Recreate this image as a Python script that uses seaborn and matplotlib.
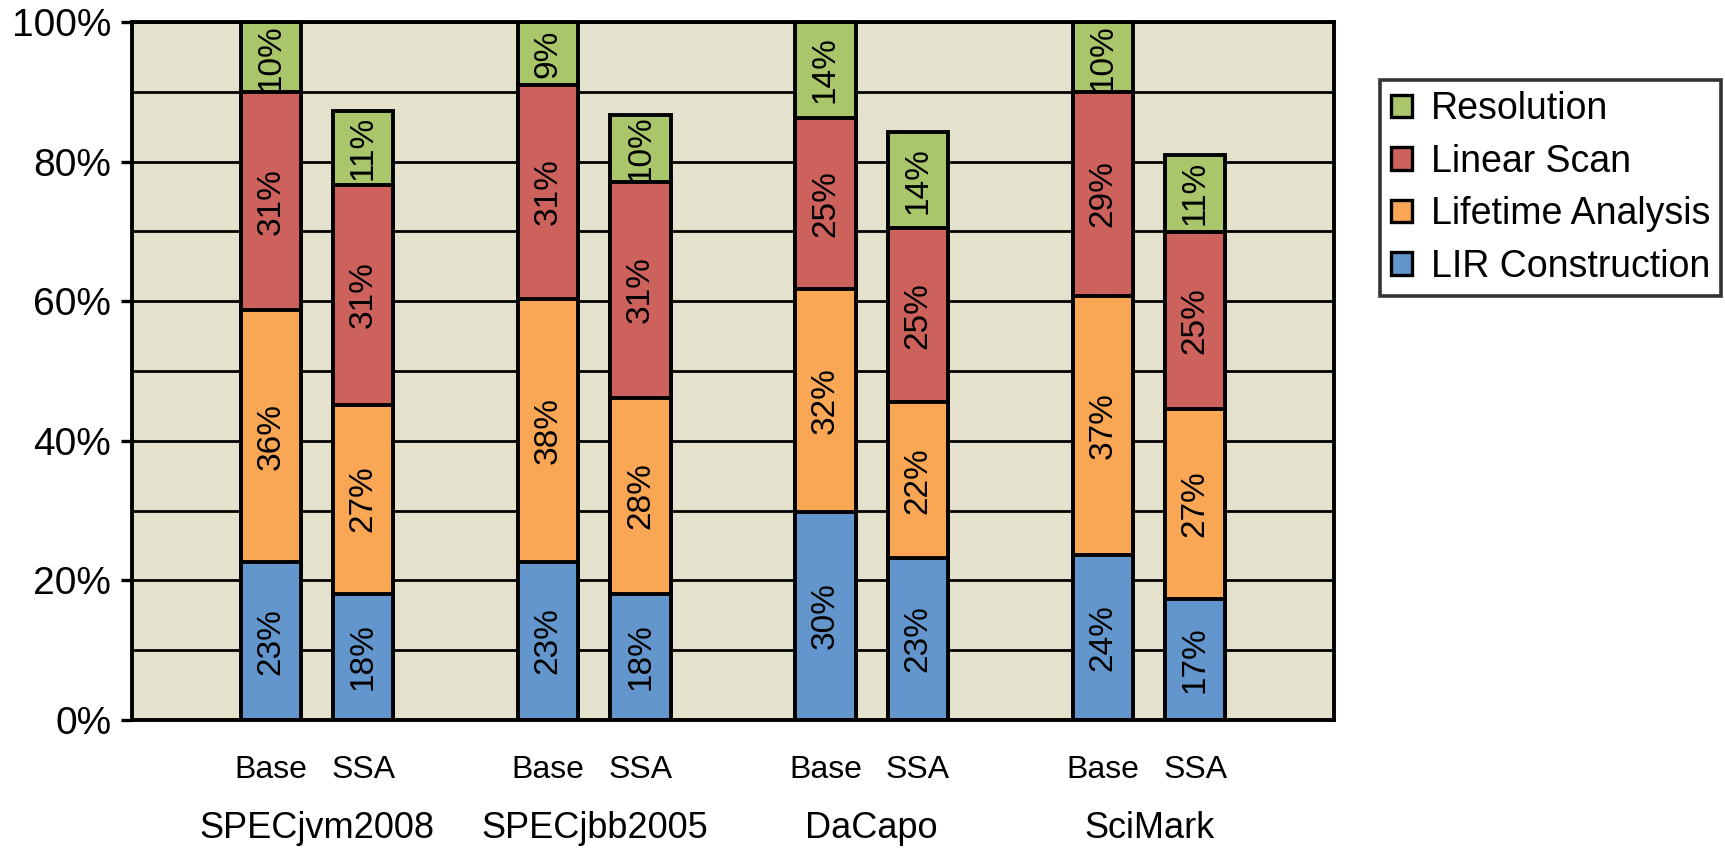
import numpy as np
import pandas as pd
import matplotlib
matplotlib.use("Agg")
import matplotlib.pyplot as plt
from matplotlib.patches import Patch
from matplotlib.ticker import MultipleLocator
import seaborn as sns

BENCHMARKS = ["SPECjvm2008", "SPECjbb2005", "DaCapo", "SciMark"]
RUNS = ["Base", "SSA"]
COMPONENTS = ["LIR Construction", "Lifetime Analysis", "Linear Scan", "Resolution"]
COLORS = ["#6396CC", "#FAA755", "#CD625D", "#AAC66A"]

# share of Base register-allocation time (%), per benchmark as [Base, SSA]
LIR_CONSTRUCTION = [[22.6, 18.1], [22.7, 18.1], [29.8, 23.2], [23.6, 17.4]]
LIFETIME_ANALYSIS = [[36.1, 27.1], [37.6, 28.0], [31.9, 22.3], [37.2, 27.2]]
LINEAR_SCAN = [[31.2, 31.4], [30.7, 31.0], [24.6, 25.0], [29.1, 25.3]]
RESOLUTION = [[10.1, 10.6], [9.0, 9.6], [13.7, 13.7], [10.1, 11.1]]

Y_TICKS = [0, 20, 40, 60, 80, 100]

plt.rcParams["font.family"] = ["Liberation Sans", "DejaVu Sans"]


def build_frame():
    series = [LIR_CONSTRUCTION, LIFETIME_ANALYSIS, LINEAR_SCAN, RESOLUTION]
    rows = []
    for g, bench in enumerate(BENCHMARKS):
        for r, run in enumerate(RUNS):
            row = {"bench": bench, "run": run, "pos": 3 * g + 1 + r}
            cum = 0.0
            for k, s in enumerate(series):
                row[f"val{k}"] = s[g][r]
                cum += s[g][r]
                row[f"cum{k}"] = cum
            rows.append(row)
    return pd.DataFrame(rows)


df = build_frame()

fig = plt.figure(figsize=(17.25, 8.51), dpi=100)
ax = fig.add_axes([132 / 1725, 1 - 720 / 851, (1334 - 132) / 1725, (720 - 22) / 851])
ax.set_facecolor("#E4E2CC")
ax.set_axisbelow(True)

# stacked bars: draw cumulative totals back to front
for k in reversed(range(len(COMPONENTS))):
    sns.barplot(data=df, x="pos", y=f"cum{k}", native_scale=True, width=0.65,
                color=COLORS[k], saturation=1, edgecolor="black", linewidth=2.8,
                errorbar=None, ax=ax)

for _, row in df.iterrows():
    for k in range(len(COMPONENTS)):
        v = row[f"val{k}"]
        ax.text(row["pos"], row[f"cum{k}"] - v / 2, f"{v:.0f}%", rotation=90,
                ha="center", va="center", fontsize=24, clip_on=True)

ax.set_xlim(-0.5, 12.5)
ax.set_ylim(0, 100)
ax.set_yticks(Y_TICKS)
ax.set_yticklabels([f"{t}%" for t in Y_TICKS], fontsize=28)
ax.yaxis.set_minor_locator(MultipleLocator(10))
ax.grid(axis="y", which="both", color="black", linewidth=2.0)
ax.tick_params(axis="y", which="major", length=8, width=2.4, pad=7)
ax.tick_params(axis="y", which="minor", length=0)

ax.set_xticks(df["pos"])
ax.set_xticklabels(df["run"], fontsize=23)
ax.tick_params(axis="x", length=0, pad=25)
ax.set_xlabel("")
ax.set_ylabel("")

for g, bench in enumerate(BENCHMARKS):
    mid = df.loc[df["bench"] == bench, "pos"].mean()
    ax.text(mid, -0.155, bench, transform=ax.get_xaxis_transform(), ha="center",
            va="center", fontsize=26)

for sp in ax.spines.values():
    sp.set_color("black")
    sp.set_linewidth(2.8)

handles = [Patch(facecolor=COLORS[k], edgecolor="black", linewidth=2.4)
           for k in reversed(range(len(COMPONENTS)))]
leg = fig.legend(handles, list(reversed(COMPONENTS)), loc="upper left",
                 bbox_to_anchor=(1380 / 1725, 1 - 80 / 851), fontsize=27,
                 frameon=True, fancybox=False, edgecolor="black",
                 handlelength=0.55, handleheight=0.55, handletextpad=0.5,
                 labelspacing=0.44, borderpad=0.3, borderaxespad=0)
leg.get_frame().set_linewidth(2.6)

fig.savefig("out.png", dpi=100)
plt.close(fig)
